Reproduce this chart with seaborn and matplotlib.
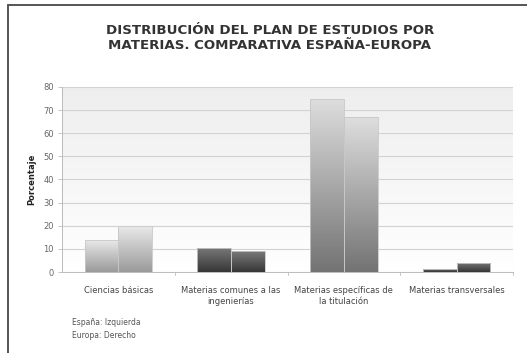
import numpy as np
import pandas as pd
import matplotlib
matplotlib.use("Agg")
import matplotlib.pyplot as plt
from matplotlib.colors import LinearSegmentedColormap
import seaborn as sns

categorias = [
    "Ciencias básicas",
    "Materias comunes a las\ningenierías",
    "Materias específicas de\nla titulación",
    "Materias transversales",
]
espana = [14, 10.5, 75, 1.5]
europa = [20, 9, 67, 4]
series = ["España", "Europa"]

# top / bottom shades of each category's bar gradient
degradados = [
    ("#ebebeb", "#9a9a9a"),
    ("#7a7a7a", "#363636"),
    ("#dedede", "#737373"),
    ("#7a7a7a", "#363636"),
]

df = pd.DataFrame({
    "categoria": categorias * 2,
    "serie": [series[0]] * 4 + [series[1]] * 4,
    "valor": espana + europa,
})

sns.set_theme(style="white")
plt.rcParams["font.family"] = ["DejaVu Sans"]

fig = plt.figure(figsize=(5.27, 3.53), dpi=100)
ax = fig.add_axes([62 / 527, 1 - 272 / 353, 451 / 527, 185 / 353])

sns.barplot(data=df, x="categoria", y="valor", hue="serie", order=categorias,
            hue_order=series, width=0.6, ax=ax, legend=False,
            facecolor="none", edgecolor="#c8c8c8", linewidth=0.6, zorder=3)

ax.set_ylim(0, 80)
ax.set_xlim(-0.5, 3.5)

# plot-area background: light grey fading to white towards the bottom
fondo = np.linspace(0, 1, 256).reshape(-1, 1)
cmap_fondo = LinearSegmentedColormap.from_list("fondo", ["#ffffff", "#eeeeee"])
ax.imshow(fondo, extent=[0, 1, 0, 1], transform=ax.transAxes, origin="lower",
          aspect="auto", cmap=cmap_fondo, zorder=0)

# vertical gradient fill for every bar
grad = np.linspace(0, 1, 256).reshape(-1, 1)
for i, p in enumerate(ax.patches):
    if p.get_height() <= 0:
        continue
    cat = i % 4
    arriba, abajo = degradados[cat]
    cmap = LinearSegmentedColormap.from_list(f"g{i}", [abajo, arriba])
    x0, y0 = p.get_x(), p.get_y()
    w, h = p.get_width(), p.get_height()
    im = ax.imshow(grad, extent=[x0, x0 + w, y0, y0 + h], origin="lower",
                   aspect="auto", cmap=cmap, zorder=2)
    im.set_clip_path(p)

ax.set_xlim(-0.5, 3.5)
ax.set_ylim(0, 80)

ax.set_yticks(range(0, 81, 10))
ax.yaxis.grid(True, color="#d2d2d2", linewidth=0.8)
ax.set_axisbelow(True)
ax.tick_params(axis="y", labelsize=6, labelcolor="#666666", length=3,
               color="#bbbbbb", width=0.6, left=True, pad=3)

ax.set_xticks([0, 1, 2, 3])
ax.set_xticklabels(categorias, fontsize=6, color="#444444", linespacing=1.3)
ax.tick_params(axis="x", length=0, pad=10)
for xb in [0.5, 1.5, 2.5, 3.5]:
    ax.plot([xb, xb], [0, -1.2], color="#bbbbbb", lw=0.6, clip_on=False, zorder=4)

ax.set_xlabel("")
ax.set_ylabel("Porcentaje", fontsize=6, fontweight="bold", color="#222222", labelpad=5)

for side in ["top", "right"]:
    ax.spines[side].set_visible(False)
for side in ["left", "bottom"]:
    ax.spines[side].set_color("#bbbbbb")
    ax.spines[side].set_linewidth(0.7)
    ax.spines[side].set_zorder(4)

fig.text(270 / 527, 1 - 38 / 353,
         "DISTRIBUCIÓN DEL PLAN DE ESTUDIOS POR\nMATERIAS. COMPARATIVA ESPAÑA-EUROPA",
         ha="center", va="center", fontsize=9.6, fontweight="bold",
         color="#333333", linespacing=1.2)

fig.text(72 / 527, 1 - 329 / 353, "España: Izquierda\nEuropa: Derecho",
         ha="left", va="center", fontsize=5.5, color="#555555", linespacing=1.5)

# outer frame (top and left edges)
fig.add_artist(plt.Line2D([8 / 527, 1], [1 - 5 / 353, 1 - 5 / 353],
                          transform=fig.transFigure, color="#555555", lw=1.4))
fig.add_artist(plt.Line2D([8 / 527, 8 / 527], [0, 1 - 5 / 353],
                          transform=fig.transFigure, color="#555555", lw=1.4))

fig.savefig("out.png", dpi=100)
